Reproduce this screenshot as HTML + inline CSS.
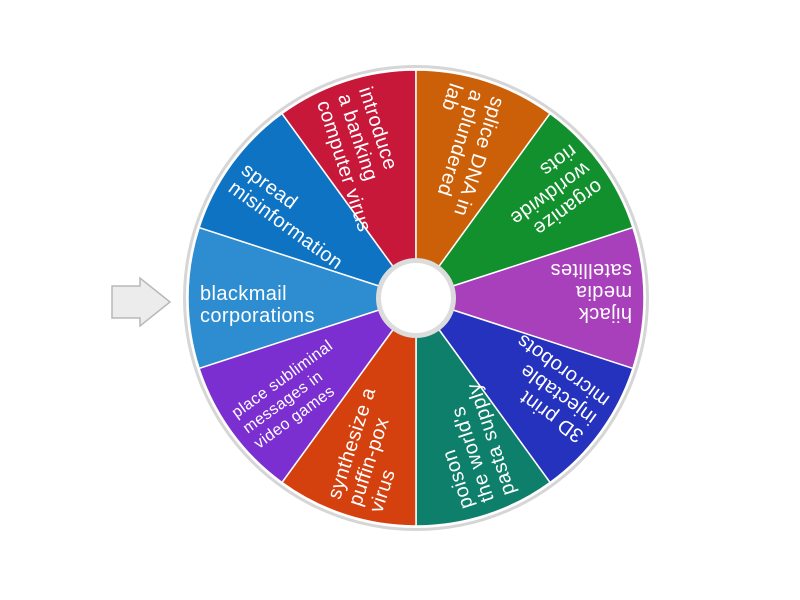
<!DOCTYPE html>
<html><head><meta charset="utf-8"><style>
html,body{margin:0;padding:0;background:#fff;}
svg{display:block;}
text{font-family:"Liberation Sans",sans-serif;fill:#fff;letter-spacing:0.4px;}
</style></head><body>
<svg width="800" height="600" viewBox="0 0 800 600">
<polygon points="112,286 140,286 140,278 170,302 140,326 140,318 112,318" fill="#ececec" stroke="#b8b8b8" stroke-width="1.5"/>
<circle cx="416" cy="298" r="233" fill="#d6d6d6"/>
<circle cx="416" cy="298" r="230" fill="#fff"/>
<g stroke="#fff" stroke-width="1.5">
<path d="M416,298 L199.15,368.45 A228,228 0 0 1 199.15,227.55 Z" fill="#2d8dd0"/>
<path d="M416,298 L199.15,227.55 A228,228 0 0 1 281.98,113.55 Z" fill="#0f73c4"/>
<path d="M416,298 L281.98,113.55 A228,228 0 0 1 416,70 Z" fill="#c8183a"/>
<path d="M416,298 L416,70 A228,228 0 0 1 550.02,113.55 Z" fill="#cc6008"/>
<path d="M416,298 L550.02,113.55 A228,228 0 0 1 632.85,227.55 Z" fill="#13902e"/>
<path d="M416,298 L632.85,227.55 A228,228 0 0 1 632.85,368.45 Z" fill="#a83fbb"/>
<path d="M416,298 L632.85,368.45 A228,228 0 0 1 550.02,482.45 Z" fill="#2432bd"/>
<path d="M416,298 L550.02,482.45 A228,228 0 0 1 416,526 Z" fill="#0e7f6a"/>
<path d="M416,298 L416,526 A228,228 0 0 1 281.98,482.45 Z" fill="#d4400e"/>
<path d="M416,298 L281.98,482.45 A228,228 0 0 1 199.15,368.45 Z" fill="#7c2fd0"/>
</g>
<circle cx="416" cy="298" r="40" fill="#dcdcdc"/>
<circle cx="416" cy="298" r="35" fill="#fff"/>
<g font-size="20">
<g transform="rotate(0 416 298)"><text x="200" y="300">blackmail</text><text x="200" y="322">corporations</text></g>
<g transform="rotate(36 416 298)"><text x="200" y="300">spread</text><text x="200" y="322">misinformation</text></g>
<g transform="rotate(72 416 298)"><text x="200" y="288">introduce</text><text x="200" y="310">a banking</text><text x="200" y="332">computer virus</text></g>
<g transform="rotate(108 416 298)"><text x="200" y="288">splice DNA in</text><text x="200" y="310">a plundered</text><text x="200" y="332">lab</text></g>
<g transform="rotate(144 416 298)"><text x="200" y="288">organize</text><text x="200" y="310">worldwide</text><text x="200" y="332">riots</text></g>
<g transform="rotate(180 416 298)"><text x="200" y="288">hijack</text><text x="200" y="310">media</text><text x="200" y="332">satellites</text></g>
<g transform="rotate(216 416 298)"><text x="200" y="288">3D print</text><text x="200" y="310">injectable</text><text x="200" y="332">microrobots</text></g>
<g transform="rotate(252 416 298)"><text x="200" y="288">poison</text><text x="200" y="310">the world's</text><text x="200" y="332">pasta supply</text></g>
<g transform="rotate(288 416 298)"><text x="200" y="288">synthesize a</text><text x="200" y="310">puffin-pox</text><text x="200" y="332">virus</text></g>
<g transform="rotate(324 416 298)" font-size="16"><text x="200" y="290">place subliminal</text><text x="200" y="309">messages in</text><text x="200" y="328">video games</text></g>
</g>
</svg>
</body></html>
